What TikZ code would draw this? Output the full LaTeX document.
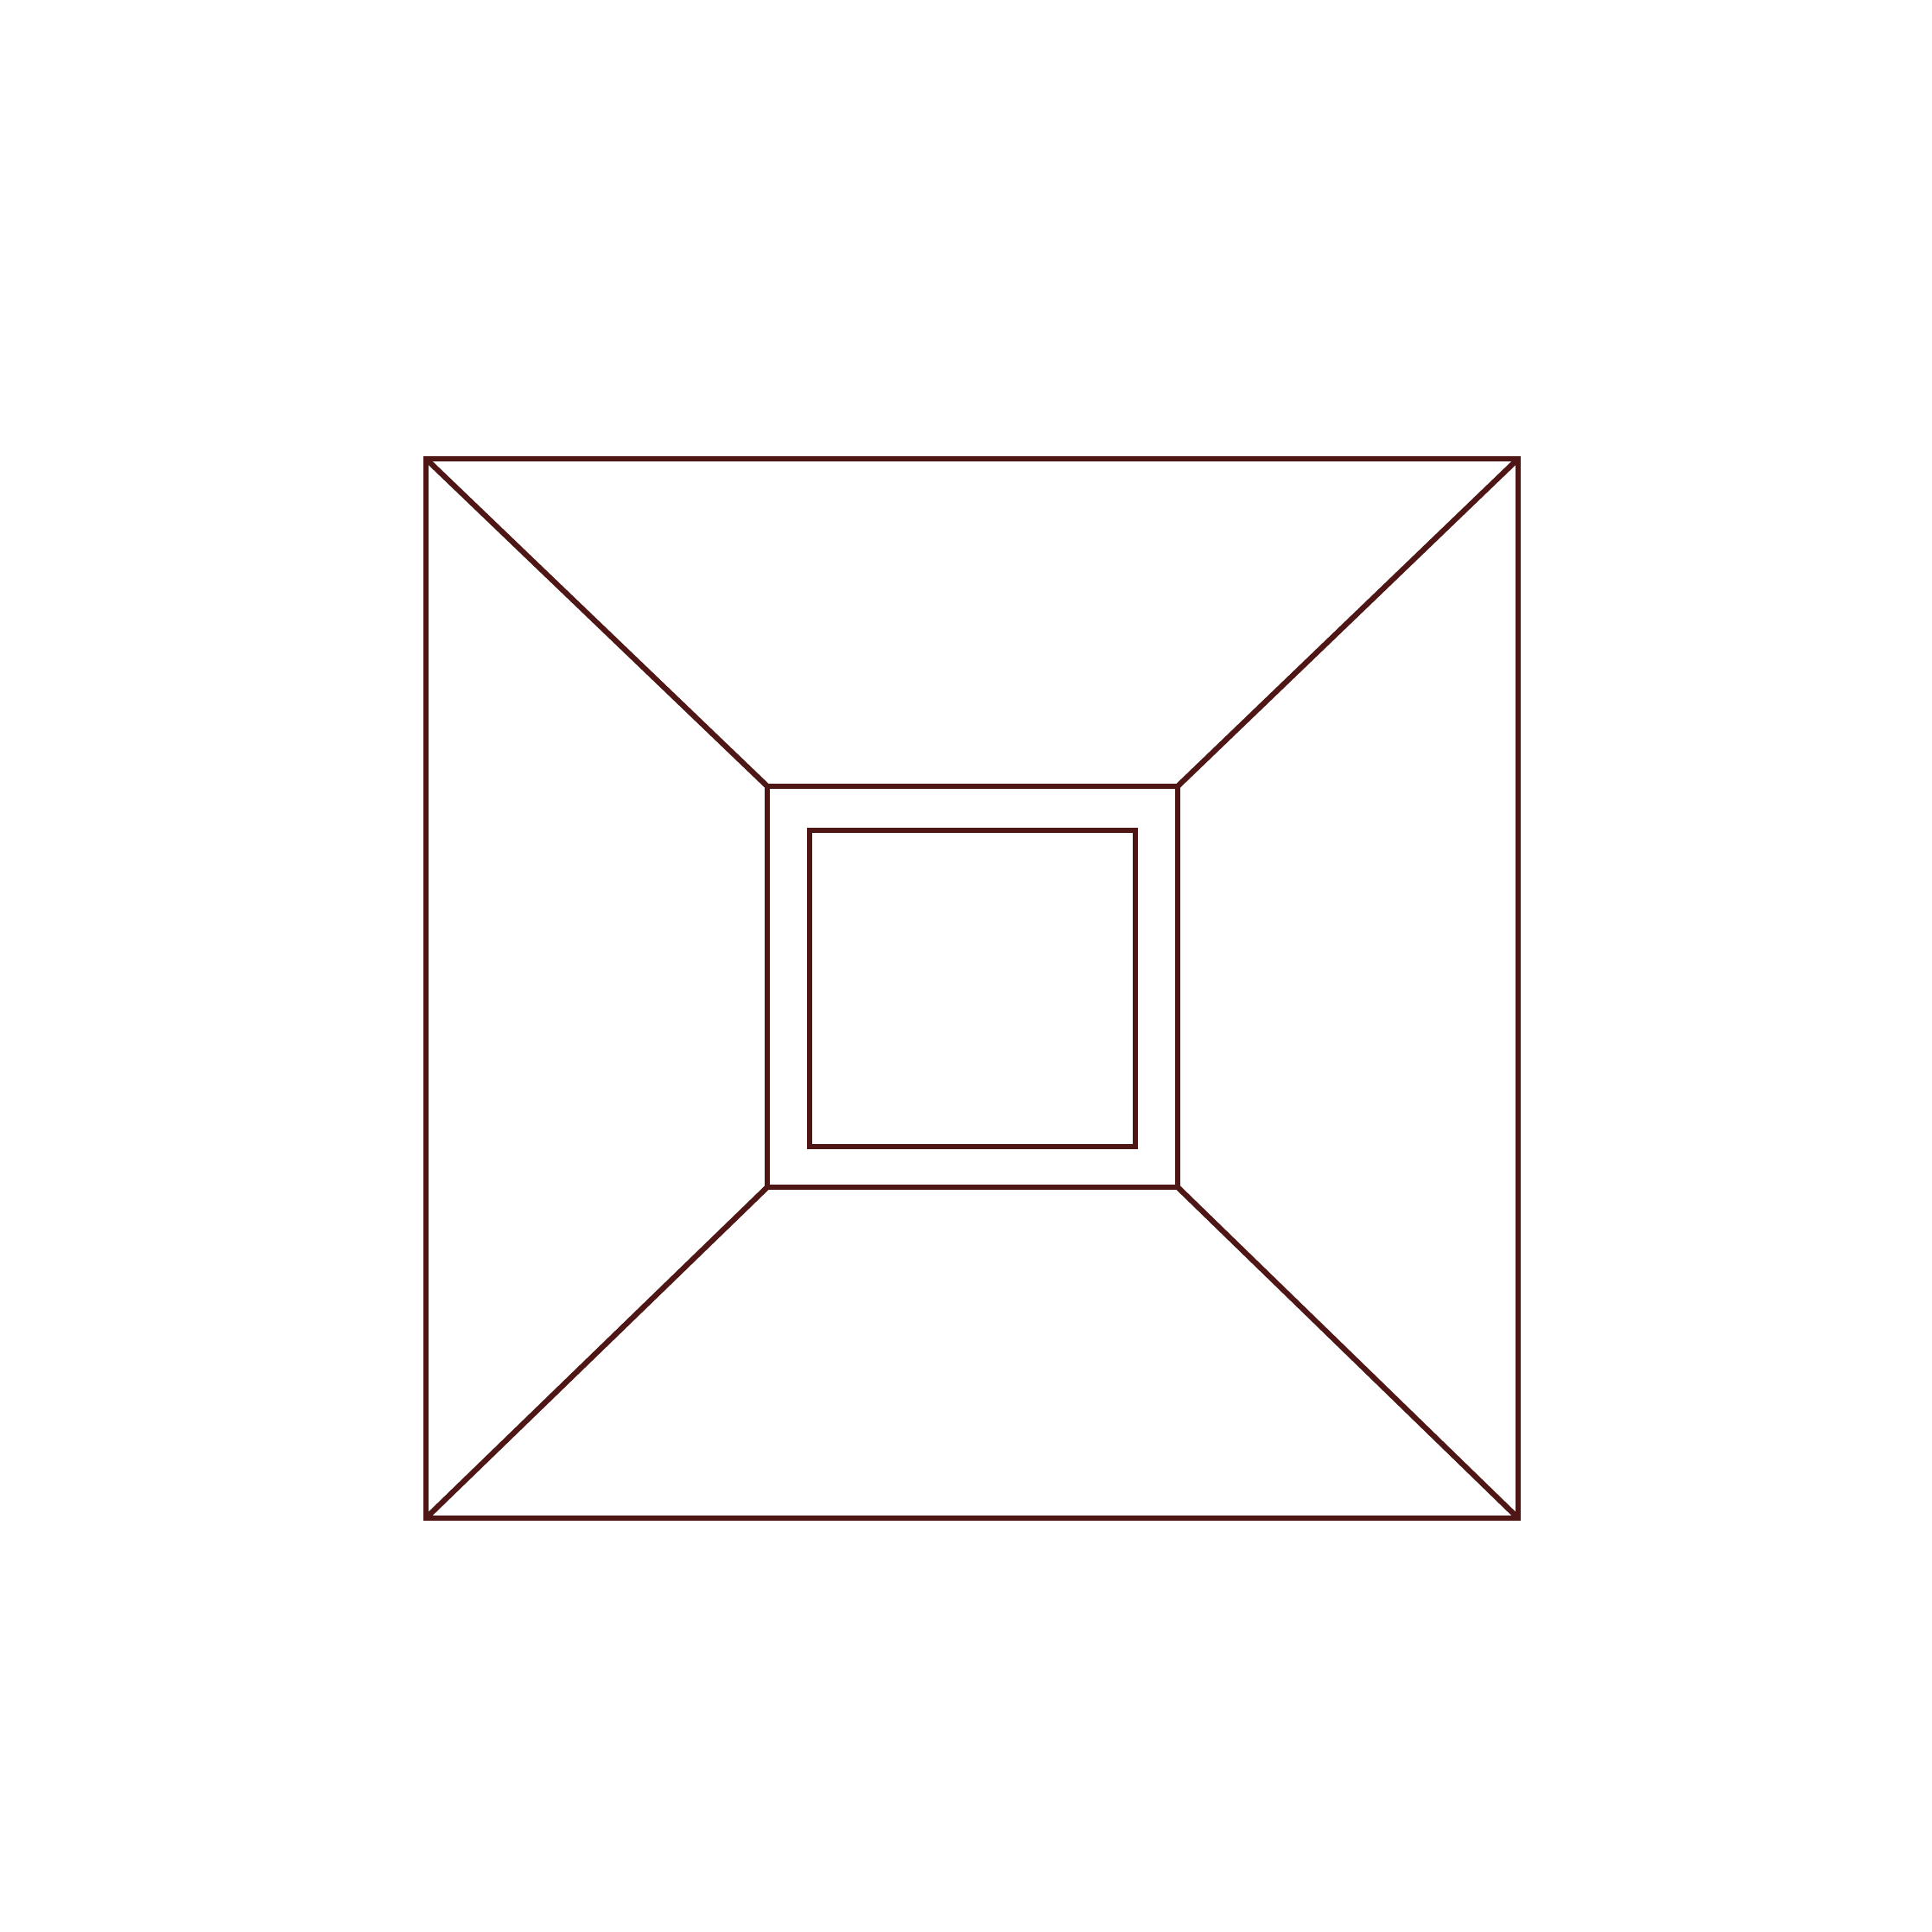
\documentclass[tikz,border=0pt]{standalone}
\usepackage{tikz}
\usetikzlibrary{calc}
\definecolor{wallbrown}{RGB}{78,22,20}
\tikzset{wall/.style={line width=1.8pt, color=wallbrown, line join=miter}}

\begin{document}
\begin{tikzpicture}
			%%%%% START %%%%%
			\useasboundingbox (0, 0) rectangle (22.36, 22.36);
			
			\coordinate (outerSW) at (4.93, 4.79);
			\coordinate (outerNE) at (17.57, 17.05);
			\coordinate (outerNW) at (4.93, 17.05);
			\coordinate (outerSE) at (17.57, 4.79);
			
			\coordinate (backSW) at (8.88, 8.62);
			\coordinate (backNE) at (13.63, 13.26);
			\coordinate (backNW) at (8.88, 13.26);
			\coordinate (backSE) at (13.63, 8.62);
			
			\draw[wall] (outerSW) rectangle (outerNE);
			\draw[wall] (backSW) rectangle (backNE);
			\draw[wall] (9.37, 9.09) rectangle (13.14, 12.75);
			
			\draw[wall] (outerNW) -- (backNW);
			\draw[wall] (outerNE) -- (backNE);
			\draw[wall] (outerSW) -- (backSW);
			\draw[wall] (outerSE) -- (backSE);
			
			%%%%% END %%%%%
\end{tikzpicture}
\end{document}
